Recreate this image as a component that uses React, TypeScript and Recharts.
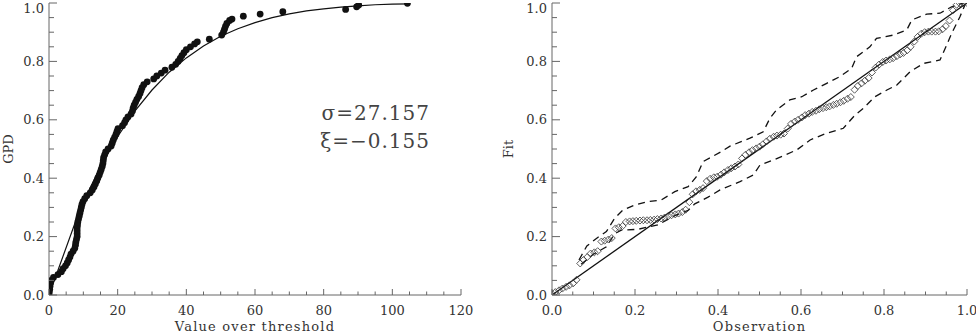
import { ComposedChart, Line, Scatter, XAxis, YAxis } from "recharts";

const FONT = '"DejaVu Serif", serif';
const INK = "#111";
const TEXT = "#333";
const FRAME = "#666";

// left panel: empirical points (value over threshold, probability)
const gpdDots: [number, number][] = [
  [0.0, 0.0], [0.1, 0.01], [0.2, 0.02], [0.3, 0.03], [0.4, 0.04], [0.6, 0.05], [1.3, 0.06], [2.6, 0.07],
  [3.6, 0.08], [4.1, 0.09], [4.8, 0.1], [5.3, 0.11], [5.7, 0.12], [6.1, 0.13], [6.4, 0.14], [7.0, 0.15],
  [7.5, 0.16], [7.7, 0.17], [7.8, 0.18], [8.0, 0.19], [8.2, 0.2], [8.2, 0.21], [8.2, 0.22], [8.2, 0.23],
  [8.3, 0.24], [8.4, 0.25], [8.6, 0.26], [8.8, 0.27], [9.0, 0.28], [9.2, 0.29], [9.4, 0.3], [9.6, 0.31],
  [9.9, 0.32], [10.4, 0.33], [11.0, 0.34], [12.0, 0.35], [12.6, 0.36], [13.1, 0.37], [13.5, 0.38], [13.9, 0.39],
  [14.2, 0.4], [14.6, 0.41], [14.9, 0.42], [15.2, 0.43], [15.5, 0.44], [15.7, 0.45], [15.8, 0.46], [15.9, 0.47],
  [16.2, 0.48], [16.5, 0.49], [17.2, 0.5], [18.1, 0.51], [18.4, 0.52], [18.7, 0.53], [19.1, 0.54], [19.5, 0.55],
  [19.8, 0.56], [20.1, 0.57], [21.4, 0.58], [22.0, 0.59], [22.4, 0.6], [23.0, 0.61], [23.9, 0.62], [24.3, 0.63],
  [24.5, 0.64], [24.8, 0.65], [25.2, 0.66], [25.6, 0.67], [26.1, 0.68], [26.5, 0.69], [26.8, 0.7], [27.1, 0.71],
  [27.6, 0.72], [28.6, 0.73], [30.5, 0.74], [31.4, 0.75], [32.7, 0.76], [33.8, 0.77], [35.8, 0.78], [36.9, 0.79],
  [37.6, 0.8], [38.2, 0.81], [38.7, 0.82], [39.3, 0.83], [40.0, 0.84], [41.2, 0.85], [42.4, 0.86], [43.2, 0.867],
  [46.7, 0.876], [50.3, 0.89], [50.8, 0.9], [51.1, 0.91], [51.4, 0.92], [51.8, 0.93], [52.6, 0.94], [53.3, 0.945],
  [56.6, 0.955], [61.5, 0.962], [68.1, 0.97], [86.4, 0.978], [89.6, 0.987], [90.2, 0.993], [104.4, 0.999],
];

// fitted GPD curve
const gpdCurve: [number, number][] = [
  [0, 0], [8, 0.26], [10, 0.316], [12, 0.367], [15, 0.439], [20, 0.543], [25, 0.63], [30, 0.702],
  [35, 0.763], [40, 0.812], [45, 0.853], [50, 0.886], [55, 0.912], [60, 0.933], [65, 0.95], [70, 0.963],
  [75, 0.973], [80, 0.98], [85, 0.986], [90, 0.99], [95, 0.994], [100, 0.996], [105, 0.997],
];

// right panel: observation vs fit
const ppPoints: [number, number][] = [
  [0.0, 0.004], [0.008, 0.01], [0.017, 0.016], [0.025, 0.022], [0.034, 0.028], [0.042, 0.033], [0.051, 0.04], [0.059, 0.052],
  [0.068, 0.108], [0.076, 0.12], [0.085, 0.13], [0.093, 0.142], [0.102, 0.146], [0.11, 0.15], [0.119, 0.183], [0.127, 0.186],
  [0.136, 0.19], [0.144, 0.195], [0.153, 0.228], [0.161, 0.232], [0.17, 0.236], [0.178, 0.25], [0.187, 0.252], [0.195, 0.253],
  [0.203, 0.254], [0.212, 0.255], [0.22, 0.256], [0.229, 0.256], [0.237, 0.257], [0.246, 0.258], [0.254, 0.26], [0.263, 0.262],
  [0.271, 0.265], [0.28, 0.27], [0.288, 0.273], [0.297, 0.276], [0.305, 0.279], [0.314, 0.284], [0.322, 0.292], [0.331, 0.318],
  [0.339, 0.345], [0.347, 0.355], [0.356, 0.36], [0.364, 0.366], [0.373, 0.39], [0.381, 0.398], [0.39, 0.403], [0.398, 0.405],
  [0.407, 0.412], [0.415, 0.42], [0.424, 0.428], [0.432, 0.434], [0.441, 0.44], [0.449, 0.447], [0.458, 0.468], [0.466, 0.48],
  [0.475, 0.489], [0.483, 0.496], [0.492, 0.502], [0.5, 0.508], [0.508, 0.516], [0.517, 0.526], [0.525, 0.535], [0.534, 0.542],
  [0.542, 0.546], [0.551, 0.549], [0.559, 0.553], [0.568, 0.57], [0.576, 0.586], [0.585, 0.594], [0.593, 0.6], [0.602, 0.608],
  [0.61, 0.616], [0.619, 0.621], [0.627, 0.627], [0.636, 0.631], [0.644, 0.636], [0.653, 0.64], [0.661, 0.643], [0.669, 0.646],
  [0.678, 0.651], [0.686, 0.655], [0.695, 0.66], [0.703, 0.665], [0.712, 0.672], [0.72, 0.678], [0.729, 0.703], [0.737, 0.716],
  [0.746, 0.725], [0.754, 0.734], [0.763, 0.743], [0.771, 0.762], [0.78, 0.779], [0.788, 0.789], [0.797, 0.798], [0.805, 0.803],
  [0.814, 0.807], [0.822, 0.811], [0.831, 0.818], [0.839, 0.824], [0.847, 0.829], [0.856, 0.838], [0.864, 0.85], [0.873, 0.868],
  [0.881, 0.884], [0.89, 0.895], [0.898, 0.9], [0.907, 0.902], [0.915, 0.902], [0.924, 0.902], [0.932, 0.903], [0.941, 0.91],
  [0.949, 0.921], [0.958, 0.94], [0.966, 0.975], [0.975, 0.994], [0.983, 0.998], [0.992, 1.0], [1.0, 1.0],
];

const diagonal: [number, number][] = [[0, 0], [1, 1]];

const upperBand: [number, number][] = [
  [0.065, 0.12], [0.084, 0.168], [0.111, 0.198], [0.131, 0.217], [0.151, 0.263], [0.171, 0.291], [0.199, 0.308],
  [0.231, 0.32], [0.263, 0.325], [0.296, 0.354], [0.328, 0.371], [0.348, 0.405], [0.364, 0.457], [0.408, 0.491],
  [0.429, 0.51], [0.477, 0.537], [0.509, 0.559], [0.525, 0.605], [0.541, 0.634], [0.573, 0.668], [0.602, 0.679],
  [0.63, 0.702], [0.662, 0.725], [0.694, 0.748], [0.722, 0.776], [0.734, 0.816], [0.766, 0.85], [0.782, 0.879],
  [0.822, 0.89], [0.855, 0.908], [0.867, 0.942], [0.903, 0.962], [0.935, 0.965], [0.963, 0.987], [0.991, 1.0],
];

const lowerBand: [number, number][] = [
  [0.07, 0.105], [0.1, 0.14], [0.131, 0.165], [0.151, 0.21], [0.167, 0.222], [0.207, 0.225], [0.255, 0.24],
  [0.296, 0.272], [0.328, 0.29], [0.344, 0.312], [0.376, 0.335], [0.405, 0.36], [0.453, 0.388], [0.485, 0.411],
  [0.501, 0.445], [0.533, 0.462], [0.59, 0.497], [0.622, 0.531], [0.662, 0.554], [0.702, 0.571], [0.73, 0.616],
  [0.75, 0.639], [0.778, 0.679], [0.807, 0.702], [0.831, 0.719], [0.863, 0.765], [0.895, 0.793], [0.935, 0.805],
  [0.951, 0.856], [0.963, 0.896], [0.983, 0.953], [0.995, 0.993],
];

const valueTicks = [0, 5, 10, 15, 20, 25, 30, 35, 40, 45, 50, 55, 60, 65, 70, 75, 80, 85, 90, 95, 100, 105, 110, 115, 120];
const probTicks = [
  0, 0.05, 0.1, 0.15, 0.2, 0.25, 0.3, 0.35, 0.4, 0.45, 0.5, 0.55, 0.6, 0.65, 0.7, 0.75, 0.8, 0.85, 0.9, 0.95, 1,
];

const rows = (pts: [number, number][]) => pts.map(([x, y]) => ({ x, y }));

type Side = "bottom" | "top" | "left" | "right";

// inward ticks, IDL style, with labels on the bottom and left sides only
function makeTick(side: Side, step: number, digits: number) {
  return (p: any) => {
    const v = p.payload.value as number;
    const major = Math.abs(v / step - Math.round(v / step)) < 1e-6;
    const { x, y } = p;
    const horiz = side === "bottom" || side === "top";
    const len = horiz ? (major ? 6 : 3.5) : major ? 8 : 5;
    let line;
    if (side === "bottom") line = <line x1={x} x2={x} y1={y} y2={y - len} />;
    else if (side === "top") line = <line x1={x} x2={x} y1={y} y2={y + len} />;
    else if (side === "left") line = <line x1={x} x2={x + len} y1={y} y2={y} />;
    else line = <line x1={x} x2={x - len} y1={y} y2={y} />;
    const label = v.toFixed(digits);
    return (
      <g>
        <g stroke={FRAME} strokeWidth={1}>{line}</g>
        {major && side === "bottom" && (
          <text x={x} y={y + 20} textAnchor="middle" fill={TEXT} fontFamily={FONT} fontSize={13}>
            {label}
          </text>
        )}
        {major && side === "left" && (
          <text x={x - 5} y={Math.max(y + 4.5, 13)} textAnchor="end" fill={TEXT} fontFamily={FONT} fontSize={13}>
            {label}
          </text>
        )}
      </g>
    );
  };
}

const yTitle = (title: string) => (props: any) => {
  const vb = props.viewBox;
  const cx = vb.x + 8;
  const cy = vb.y + vb.height / 2;
  return (
    <text
      x={cx}
      y={cy}
      transform={`rotate(-90 ${cx} ${cy})`}
      textAnchor="middle"
      dominantBaseline="central"
      fill={TEXT}
      fontFamily={FONT}
      fontSize={13}
    >
      {title}
    </text>
  );
};

const xTitle = (title: string) => (props: any) => {
  const vb = props.viewBox;
  return (
    <text x={vb.x + vb.width / 2} y={vb.y + 36} textAnchor="middle" fill={TEXT} fontFamily={FONT} fontSize={13} letterSpacing={1.2}>
      {title}
    </text>
  );
};

const Diamond = (p: any) => {
  const { cx, cy } = p;
  const r = 3.5;
  return (
    <polygon
      points={`${cx},${cy - r} ${cx + r},${cy} ${cx},${cy + r} ${cx - r},${cy}`}
      fill="none"
      stroke="#333"
      strokeWidth={0.8}
    />
  );
};

const Dot = (p: any) => <circle cx={p.cx} cy={p.cy} r={3.4} fill={INK} />;

function axes(domain: number[], xTicks: number[], xStep: number, xDigits: number, xLabel: string, yLabel: string, yWidth: number) {
  return [
    <XAxis
      key="xb"
      xAxisId={0}
      type="number"
      dataKey="x"
      domain={domain}
      ticks={xTicks}
      interval={0}
      height={38}
      tickSize={0}
      tickMargin={0}
      axisLine={{ stroke: FRAME }}
      tickLine={false}
      tick={makeTick("bottom", xStep, xDigits)}
      label={xTitle(xLabel)}
      allowDataOverflow
    />,
    <XAxis
      key="xt"
      xAxisId="top"
      orientation="top"
      type="number"
      domain={domain}
      ticks={xTicks}
      interval={0}
      height={0}
      tickSize={0}
      tickMargin={0}
      axisLine={{ stroke: FRAME }}
      tickLine={false}
      tick={makeTick("top", xStep, xDigits)}
      allowDataOverflow
    />,
    <YAxis
      key="yl"
      yAxisId={0}
      type="number"
      dataKey="y"
      domain={[0, 1]}
      ticks={probTicks}
      interval={0}
      width={yWidth}
      tickSize={0}
      tickMargin={0}
      axisLine={{ stroke: FRAME }}
      tickLine={false}
      tick={makeTick("left", 0.2, 1)}
      label={yTitle(yLabel)}
      allowDataOverflow
    />,
    <YAxis
      key="yr"
      yAxisId="right"
      orientation="right"
      type="number"
      domain={[0, 1]}
      ticks={probTicks}
      interval={0}
      width={0}
      tickSize={0}
      tickMargin={0}
      axisLine={{ stroke: FRAME }}
      tickLine={false}
      tick={makeTick("right", 0.2, 1)}
      allowDataOverflow
    />,
  ];
}

export default function App() {
  return (
    <div style={{ position: "absolute", left: 0, top: 0, width: 976, height: 333, background: "#fff", overflow: "hidden" }}>
      <div style={{ position: "absolute", left: 0, top: 0 }}>
        <ComposedChart width={480} height={333} margin={{ top: 3, right: 19, bottom: 0, left: 0 }}>
          {axes([0, 120], valueTicks, 20, 0, "Value over threshold", "GPD", 49)}
          <Line
            data={rows(gpdCurve)}
            dataKey="y"
            type="linear"
            stroke={INK}
            strokeWidth={1.2}
            dot={false}
            activeDot={false}
            isAnimationActive={false}
          />
          <Scatter data={rows(gpdDots)} dataKey="y" shape={Dot} isAnimationActive={false} />
        </ComposedChart>
        <svg width={480} height={333} style={{ position: "absolute", left: 0, top: 0, pointerEvents: "none" }}>
          <text x={430} y={120} textAnchor="end" fill="#444" fontFamily={FONT} fontSize={20} letterSpacing={1}>
            σ=27.157
          </text>
          <text x={430} y={148} textAnchor="end" fill="#444" fontFamily={FONT} fontSize={20} letterSpacing={1}>
            ξ=−0.155
          </text>
        </svg>
      </div>
      <div style={{ position: "absolute", left: 500, top: 0 }}>
        <ComposedChart width={476} height={333} margin={{ top: 3, right: 9, bottom: 0, left: 0 }}>
          {axes([0, 1], probTicks, 0.2, 1, "Observation", "Fit", 52)}
          <Line
            data={rows(upperBand)}
            dataKey="y"
            type="linear"
            stroke={INK}
            strokeWidth={1.3}
            strokeDasharray="7 5"
            dot={false}
            activeDot={false}
            isAnimationActive={false}
          />
          <Line
            data={rows(lowerBand)}
            dataKey="y"
            type="linear"
            stroke={INK}
            strokeWidth={1.3}
            strokeDasharray="7 5"
            dot={false}
            activeDot={false}
            isAnimationActive={false}
          />
          <Line
            data={rows(diagonal)}
            dataKey="y"
            type="linear"
            stroke={INK}
            strokeWidth={1.3}
            dot={false}
            activeDot={false}
            isAnimationActive={false}
          />
          <Scatter data={rows(ppPoints)} dataKey="y" shape={Diamond} isAnimationActive={false} />
        </ComposedChart>
      </div>
    </div>
  );
}
